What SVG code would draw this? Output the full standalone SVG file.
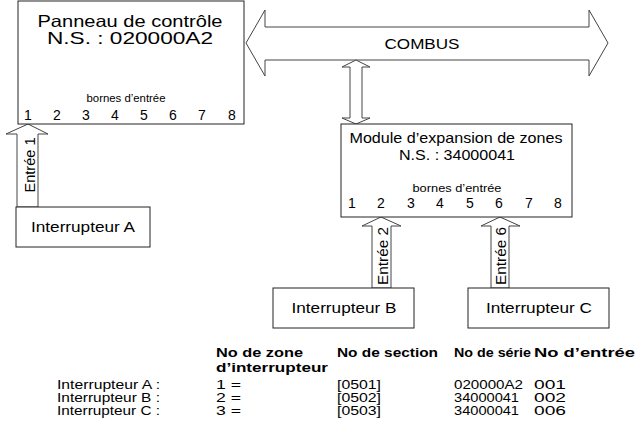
<svg xmlns="http://www.w3.org/2000/svg" width="637" height="431" viewBox="0 0 637 431">
  <style>
    text { font-family: "Liberation Sans", Arial, sans-serif; fill: #000; }
    .box { fill: #fff; stroke: #222; stroke-width: 1; }
    .arrow { fill: #fff; stroke: #444; stroke-width: 1; stroke-linejoin: miter; }
    .title { font-size: 16.5px; text-anchor: middle; }
    .title2 { font-size: 14.5px; text-anchor: middle; }
    .small { font-size: 11px; text-anchor: middle; }
    .num { font-size: 14px; text-anchor: middle; }
    .lbl { font-size: 15px; text-anchor: middle; }
    .rot { font-size: 14px; text-anchor: middle; }
    .th { font-size: 13px; font-weight: bold; }
    .td { font-size: 12px; }
  </style>
  <rect width="637" height="431" fill="#fff"/>

  <!-- connectors: bus and input arrows -->
  <g id="connectors">
    <polygon class="arrow" points="246,43 265,10 265,27 589,27 589,10 608,43 589,76 589,60 265,60 265,76"/>
    <text x="422" y="49" class="lbl" textLength="75" lengthAdjust="spacingAndGlyphs">COMBUS</text>
    <polygon class="arrow" points="356,60 370,67 362,67 362,118 370,118 356,124 342,118 350,118 350,67 342,67"/>
    <g id="input1">
      <polygon class="arrow" points="28,124 48,134 38,134 38,207 17,207 17,134 6,134"/>
      <text class="rot" transform="translate(35,165) rotate(-90)" textLength="55" lengthAdjust="spacingAndGlyphs">Entrée 1</text>
    </g>
    <g id="input2">
      <polygon class="arrow" points="381,217 401,226 391,226 391,288 372,288 372,226 362,226"/>
      <text class="rot" transform="translate(388,256) rotate(-90)" textLength="58" lengthAdjust="spacingAndGlyphs">Entrée 2</text>
    </g>
    <g id="input6">
      <polygon class="arrow" points="500,217 520,226 509,226 509,288 491,288 491,226 481,226"/>
      <text class="rot" transform="translate(506,256) rotate(-90)" textLength="58" lengthAdjust="spacingAndGlyphs">Entrée 6</text>
    </g>
  </g>

  <g id="panel">
    <rect class="box" x="18" y="1" width="226" height="123"/>
    <text x="130" y="27" class="title" textLength="185" lengthAdjust="spacingAndGlyphs">Panneau de contrôle</text>
    <text x="130" y="44" class="title" textLength="166" lengthAdjust="spacingAndGlyphs">N.S. : 020000A2</text>
    <text x="126" y="102" class="small" textLength="79" lengthAdjust="spacingAndGlyphs">bornes d’entrée</text>
    <g class="num">
      <text x="28" y="120">1</text><text x="57" y="120">2</text><text x="86" y="120">3</text><text x="115" y="120">4</text>
      <text x="144" y="120">5</text><text x="173" y="120">6</text><text x="202" y="120">7</text><text x="232" y="120">8</text>
    </g>
  </g>

  <g id="module">
    <rect class="box" x="341" y="124" width="231" height="93"/>
    <text x="456" y="143" class="title2" textLength="213" lengthAdjust="spacingAndGlyphs">Module d’expansion de zones</text>
    <text x="457" y="160" class="title2" textLength="116" lengthAdjust="spacingAndGlyphs">N.S. : 34000041</text>
    <text x="457" y="192" class="small" textLength="89" lengthAdjust="spacingAndGlyphs">bornes d’entrée</text>
    <g class="num">
      <text x="352" y="208">1</text><text x="381" y="208">2</text><text x="411" y="208">3</text><text x="440" y="208">4</text>
      <text x="470" y="208">5</text><text x="499" y="208">6</text><text x="529" y="208">7</text><text x="558" y="208">8</text>
    </g>
  </g>

  <g id="switchA">
    <rect class="box" x="16" y="207" width="134" height="40"/>
    <text x="83" y="232" class="lbl" textLength="104" lengthAdjust="spacingAndGlyphs">Interrupteur A</text>
  </g>
  <g id="switchB">
    <rect class="box" x="273" y="288" width="141" height="40"/>
    <text x="344" y="313" class="lbl" textLength="105" lengthAdjust="spacingAndGlyphs">Interrupteur B</text>
  </g>
  <g id="switchC">
    <rect class="box" x="468" y="288" width="141" height="40"/>
    <text x="539" y="313" class="lbl" textLength="106" lengthAdjust="spacingAndGlyphs">Interrupteur C</text>
  </g>

  <g id="table">
    <text x="216" y="357" class="th" textLength="87" lengthAdjust="spacingAndGlyphs">No de zone</text>
    <text x="216" y="372" class="th" textLength="112" lengthAdjust="spacingAndGlyphs">d’interrupteur</text>
    <text x="337" y="357" class="th" textLength="101" lengthAdjust="spacingAndGlyphs">No de section</text>
    <text x="454" y="357" class="th" textLength="77" lengthAdjust="spacingAndGlyphs">No de série</text>
    <text x="534" y="357" class="th" textLength="101" lengthAdjust="spacingAndGlyphs">No d’entrée</text>

    <text x="57" y="389" class="td" textLength="103" lengthAdjust="spacingAndGlyphs">Interrupteur A :</text>
    <text x="216" y="389" class="td" textLength="25" lengthAdjust="spacingAndGlyphs">1 =</text>
    <text x="337" y="389" class="td" textLength="44" lengthAdjust="spacingAndGlyphs">[0501]</text>
    <text x="454" y="389" class="td" textLength="69" lengthAdjust="spacingAndGlyphs">020000A2</text>
    <text x="534" y="389" class="td" textLength="32" lengthAdjust="spacingAndGlyphs">001</text>

    <text x="57" y="402" class="td" textLength="103" lengthAdjust="spacingAndGlyphs">Interrupteur B :</text>
    <text x="216" y="402" class="td" textLength="25" lengthAdjust="spacingAndGlyphs">2 =</text>
    <text x="337" y="402" class="td" textLength="44" lengthAdjust="spacingAndGlyphs">[0502]</text>
    <text x="454" y="402" class="td" textLength="65" lengthAdjust="spacingAndGlyphs">34000041</text>
    <text x="534" y="402" class="td" textLength="32" lengthAdjust="spacingAndGlyphs">002</text>

    <text x="57" y="415" class="td" textLength="103" lengthAdjust="spacingAndGlyphs">Interrupteur C :</text>
    <text x="216" y="415" class="td" textLength="25" lengthAdjust="spacingAndGlyphs">3 =</text>
    <text x="337" y="415" class="td" textLength="44" lengthAdjust="spacingAndGlyphs">[0503]</text>
    <text x="454" y="415" class="td" textLength="65" lengthAdjust="spacingAndGlyphs">34000041</text>
    <text x="534" y="415" class="td" textLength="32" lengthAdjust="spacingAndGlyphs">006</text>
  </g>
</svg>
